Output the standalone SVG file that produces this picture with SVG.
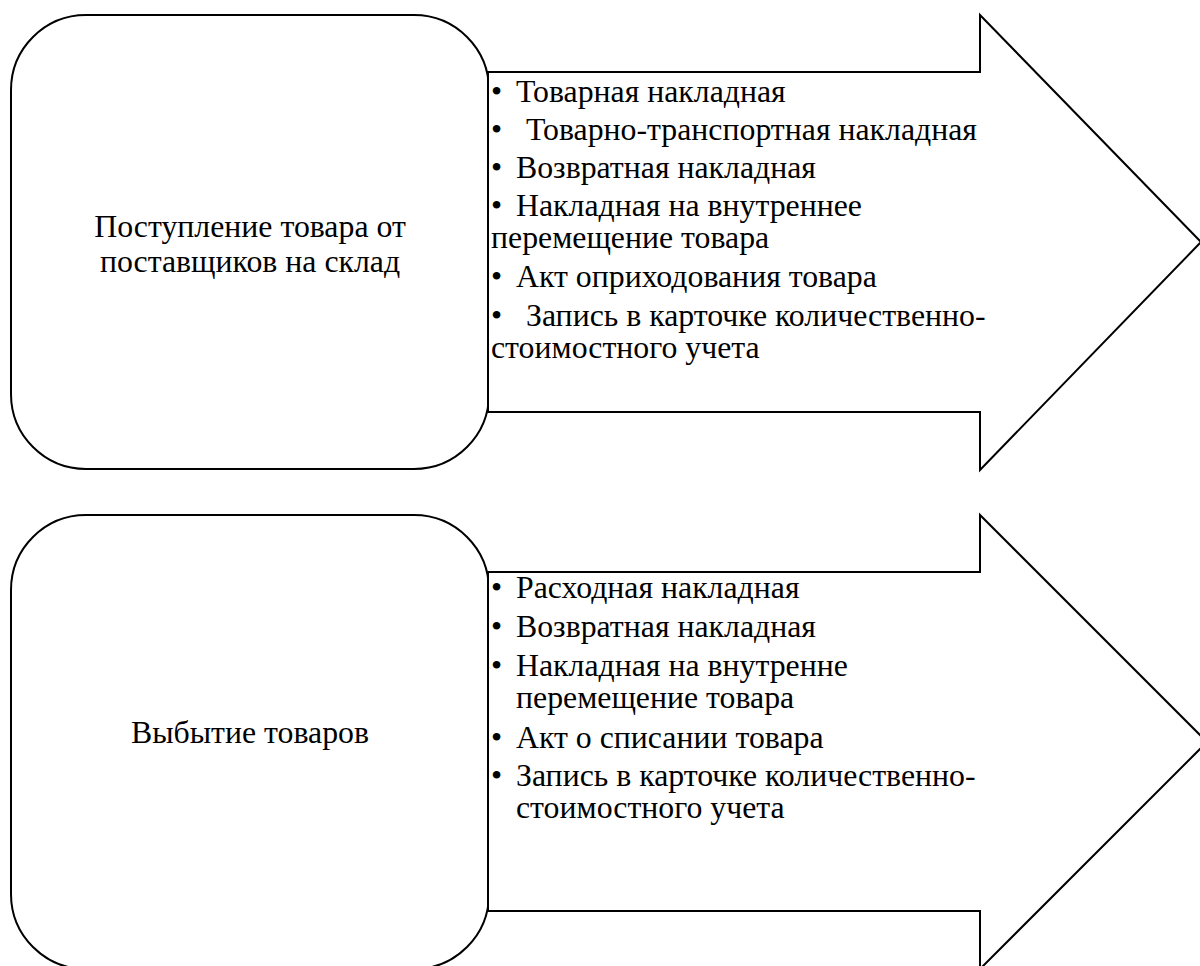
<svg xmlns="http://www.w3.org/2000/svg" width="1200" height="966" viewBox="0 0 1200 966">
<style>
.box{fill:#fff;stroke:#000;stroke-width:2}
.arrow{fill:#fff;stroke:#000;stroke-width:2;stroke-linejoin:miter}
.t{font-family:'Liberation Serif',serif;font-size:31.8px;fill:#000}
.c{text-anchor:middle}
</style>
<rect width="1200" height="966" fill="#fff"/>
<g id="node-receipt">
<rect class="box" x="11" y="15" width="478" height="454" rx="75" ry="75"/>
<g class="t">
<text class="c" x="250" y="237">Поступление товара от</text>
<text class="c" x="250" y="272">поставщиков на склад</text>
</g>
</g>
<g id="node-disposal">
<rect class="box" x="11" y="515" width="478" height="454" rx="75" ry="75"/>
<g class="t">
<text class="c" x="250" y="743">Выбытие товаров</text>
</g>
</g>
<g id="connectors">
<g id="arrow-receipt">
<polygon class="arrow" points="488,72 980,72 980,15 1201,242 980,470 980,412 488,412"/>
<g class="t">
<text x="491" y="102">•<tspan x="516">Товарная накладная</tspan></text>
<text x="491" y="140">•<tspan x="526">Товарно-транспортная накладная</tspan></text>
<text x="491" y="178">•<tspan x="516">Возвратная накладная</tspan></text>
<text x="491" y="216">•<tspan x="516">Накладная на внутреннее</tspan></text>
<text x="491" y="248">перемещение товара</text>
<text x="491" y="287">•<tspan x="516">Акт оприходования товара</tspan></text>
<text x="491" y="326">•<tspan x="526">Запись в карточке количественно-</tspan></text>
<text x="491" y="358">стоимостного учета</text>
</g>
</g>
<g id="arrow-disposal">
<polygon class="arrow" points="488,572 980,572 980,515 1207,742 980,969 980,911 488,911"/>
<g class="t">
<text x="491" y="598">•<tspan x="516">Расходная накладная</tspan></text>
<text x="491" y="637">•<tspan x="516">Возвратная накладная</tspan></text>
<text x="491" y="676">•<tspan x="516">Накладная на внутренне</tspan></text>
<text x="516" y="708">перемещение товара</text>
<text x="491" y="748">•<tspan x="516">Акт о списании товара</tspan></text>
<text x="491" y="786">•<tspan x="516">Запись в карточке количественно-</tspan></text>
<text x="516" y="818">стоимостного учета</text>
</g>
</g>
</g>
</svg>
